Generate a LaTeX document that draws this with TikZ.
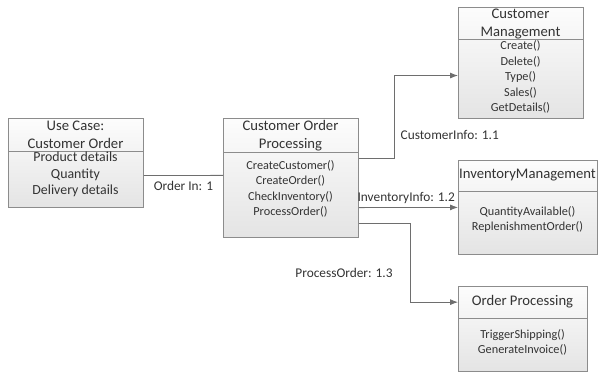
\documentclass[tikz,border=0pt]{standalone}
\usepackage{fontspec}
\setmainfont{Carlito}
\usetikzlibrary{positioning,calc,arrows.meta}
\definecolor{boxline}{HTML}{8C8C8C}
\definecolor{boxfill}{HTML}{E4E4E4}
\definecolor{lineclr}{HTML}{6E6E6E}
\definecolor{txtclr}{HTML}{333333}

\begin{document}
\begin{tikzpicture}[x=0.75pt, y=-0.75pt,
		classbox/.style={draw=boxline, line width=0.6pt, top color=gray!2, bottom color=boxfill, anchor=north west, inner sep=0pt},
		divline/.style={draw=boxline, line width=0.6pt},
		headtext/.style={text=txtclr, align=center, font=\fontsize{11}{13.5}\selectfont},
		bodytext/.style={text=txtclr, align=center, font=\fontsize{10.4}{12.4}\selectfont},
		methtext/.style={text=txtclr, align=center, font=\fontsize{9.2}{11.6}\selectfont},
		msglabel/.style={text=txtclr, font=\fontsize{10}{12}\selectfont},
		conn/.style={draw=lineclr, line width=0.6pt},
		arr/.style={conn, -{Latex[length=6pt, width=4.5pt]}}]
		\useasboundingbox (0,0) rectangle (598,374);
		% class boxes
		\node[classbox, minimum width={135*0.75pt}, minimum height={89*0.75pt}] (uc) at (8,118) {};
		\node[classbox, minimum width={135*0.75pt}, minimum height={119*0.75pt}] (cop) at (223,118) {};
		\node[classbox, minimum width={125*0.75pt}, minimum height={111*0.75pt}] (cm) at (458,7) {};
		\node[classbox, minimum width={139*0.75pt}, minimum height={94*0.75pt}] (im) at (458,160) {};
		\node[classbox, minimum width={129*0.75pt}, minimum height={85*0.75pt}] (op) at (458,286) {};
		% header dividers
		\draw[divline] ($(uc.north west)+(0,33)$) -- ($(uc.north east)+(0,33)$);
		\draw[divline] ($(cop.north west)+(0,34)$) -- ($(cop.north east)+(0,34)$);
		\draw[divline] ($(cm.north west)+(0,32)$) -- ($(cm.north east)+(0,32)$);
		\draw[divline] ($(im.north west)+(0,31)$) -- ($(im.north east)+(0,31)$);
		\draw[divline] ($(op.north west)+(0,32)$) -- ($(op.north east)+(0,32)$);
		% texts
		\node[headtext] (uc-head) at (75.5,134.5) {Use Case:\\Customer Order};
		\node[bodytext] (uc-body) at (75.5,174.5) {Product details\\Quantity\\Delivery details};
		\node[headtext] (cop-head) at (290.5,136) {Customer Order\\Processing};
		\node[methtext] (cop-body) at (290.5,189) {CreateCustomer()\\CreateOrder()\\CheckInventory()\\ProcessOrder()};
		\node[headtext] (cm-head) at (520.5,24) {Customer\\Management};
		\node[methtext] (cm-body) at (520.5,77) {Create()\\Delete()\\Type()\\Sales()\\GetDetails()};
		\node[headtext] (im-head) at (527.5,175) {InventoryManagement};
		\node[methtext] (im-body) at (527.5,219.5) {QuantityAvailable()\\ReplenishmentOrder()};
		\node[headtext] (op-head) at (522.5,302) {Order Processing};
		\node[methtext] (op-body) at (522.5,342.5) {TriggerShipping()\\GenerateInvoice()};
		% connectors
		\draw[conn] ($(uc.north east)!0.64!(uc.south east)$) -- ($(cop.north west)!0.479!(cop.south west)$)
			node[msglabel, midway, below=1pt] (ordin) {Order In: 1};
		\draw[arr] ($(cop.north east)!0.336!(cop.south east)$) -- ++(36,0) |- ($(cm.north west)!0.613!(cm.south west)$);
		\node[msglabel, anchor=west] (custinfo) at (396,135) {CustomerInfo: 1.1};
		\draw[arr] ($(cop.north east)!0.748!(cop.south east)$) -- (im.west)
			node[msglabel, pos=0.99, above left=-1pt and -2pt] (invinfo) {InventoryInfo: 1.2};
		\draw[arr] ($(cop.north east)!0.882!(cop.south east)$) -- ++(52,0) |- ($(op.north west)!0.188!(op.south west)$);
		\node[msglabel] (procord) at (344,273) {ProcessOrder: 1.3};
	\end{tikzpicture}
\end{document}
